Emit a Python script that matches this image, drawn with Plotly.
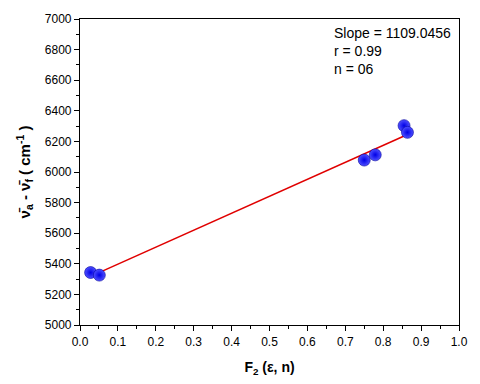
import plotly.graph_objects as go

x_vals = [0.028, 0.051, 0.750, 0.779, 0.855, 0.864]
y_vals = [5343, 5326, 6078, 6112, 6303, 6259]
fit_x = [0.028, 0.864]
slope = 1109.0456
intercept = 5287
fit_y = [intercept + slope * v for v in fit_x]

fig = go.Figure()
fig.add_trace(go.Scatter(x=fit_x, y=fit_y, mode="lines",
                         line=dict(color="#e00000", width=1.5), showlegend=False))
fig.add_trace(go.Scatter(x=x_vals, y=y_vals, mode="markers",
                         marker=dict(size=12, color="#5050ff",
                                     gradient=dict(type="radial", color="#0000e6"),
                                     line=dict(width=0.6, color="#0000a0")),
                         showlegend=False))

fig.add_annotation(x=0.984, y=1.0, xref="paper", yref="paper", xanchor="right", yanchor="top",
                   align="left", showarrow=False, yshift=-4,
                   text="Slope = 1109.0456<br>r = 0.99<br>n = 06",
                   font=dict(family="Liberation Sans, Arial", size=14, color="black"))

font = dict(family="Liberation Sans, Arial", size=12, color="black")
fig.update_layout(
    width=480, height=384,
    margin=dict(l=80, r=20, t=14, b=57),
    paper_bgcolor="white", plot_bgcolor="white",
    font=font,
    xaxis=dict(range=[0, 1.0], dtick=0.1, tickformat=".1f", showline=True, mirror=True,
               linecolor="black", linewidth=1.2, ticks="outside", ticklen=5, tickcolor="black",
               minor=dict(ticks="outside", ticklen=3, dtick=0.05, tickcolor="black"),
               showgrid=False, zeroline=False,
               title=dict(text="<b>F<sub>2</sub> (ε, n)</b>", font=dict(size=14), standoff=14)),
    yaxis=dict(range=[5000, 7000], dtick=200, showline=True, mirror=True,
               linecolor="black", linewidth=1.2, ticks="outside", ticklen=5, tickcolor="black",
               minor=dict(ticks="outside", ticklen=3, dtick=100, tickcolor="black"),
               showgrid=False, zeroline=False,
               title=dict(text="<b>ν̄<sub>a</sub> - ν̄<sub>f</sub> ( cm<sup>-1</sup> )</b>",
                          font=dict(size=15), standoff=10)),
)
fig.write_html("out.html", config={"displayModeBar": False},
               post_script="document.body.style.margin='0';document.body.style.overflow='hidden';")
